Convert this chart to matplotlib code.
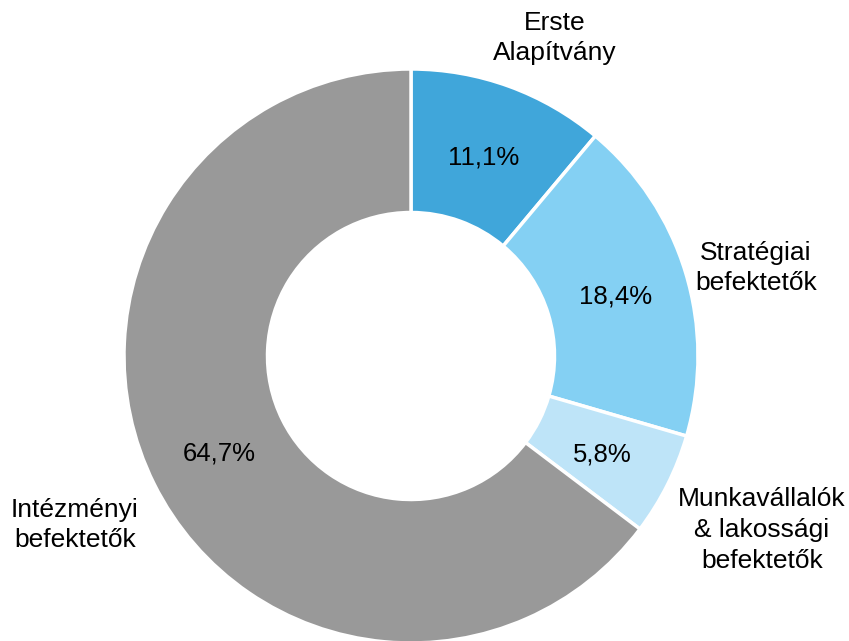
import numpy as np
import matplotlib
matplotlib.use("Agg")
import matplotlib.pyplot as plt

plt.rcParams['font.family'] = ['Liberation Sans', 'DejaVu Sans']

labels = ["Erste\nAlapítvány", "Stratégiai\nbefektetők",
          "Munkavállalók\n& lakossági\nbefektetők", "Intézményi\nbefektetők"]
values = [11.1, 18.4, 5.8, 64.7]
colors = ["#40A6DA", "#84D0F3", "#BEE4F8", "#999999"]
# label anchor points, in units of the outer radius
label_x = [0.502, 1.202, 1.222, -1.171]
label_y = [1.108, 0.307, -0.606, -0.589]

fig = plt.figure(figsize=(8.49, 6.41), dpi=100)
ax = fig.add_axes([0, 0, 1, 1])

wedges, _ = ax.pie(values, colors=colors, startangle=90, counterclock=False,
                   radius=1.0, wedgeprops=dict(width=0.5, edgecolor="white", linewidth=2.5))

for w, v in zip(wedges, values):
    ang = np.deg2rad((w.theta1 + w.theta2) / 2)
    ax.text(0.745 * np.cos(ang), 0.745 * np.sin(ang), f"{v:.1f}%".replace(".", ","),
            ha="center", va="center_baseline", fontsize=18.5)

for lab, x, y in zip(labels, label_x, label_y):
    ax.text(x, y, lab, ha="center", va="center", fontsize=19, linespacing=1.35)

ax.set_xlim(-411 / 287, 438 / 287)
ax.set_ylim(-285 / 287, 356 / 287)
ax.set_aspect("equal")
ax.axis("off")

fig.savefig("out.png", dpi=100)
